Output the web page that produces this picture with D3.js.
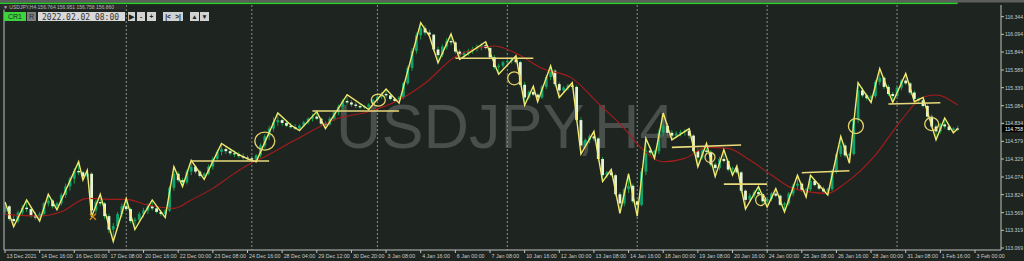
<!DOCTYPE html>
<html>
<head>
<meta charset="utf-8">
<script src="https://cdn.jsdelivr.net/npm/d3@7"></script>
<style>
body{margin:0;background:#1e2420;}
svg{display:block;font-family:"Liberation Sans",Arial,sans-serif;}
</style>
</head>
<body>
<svg width="1024" height="261"></svg>
<script>
// time axis labels, one every 8 bars
const timeLabels=["13 Dec 2021","14 Dec 16:00","16 Dec 00:00","17 Dec 08:00","20 Dec 16:00","22 Dec 00:00",
  "23 Dec 08:00","24 Dec 16:00","28 Dec 04:00","29 Dec 12:00","30 Dec 20:00","3 Jan 08:00","4 Jan 16:00",
  "6 Jan 00:00","7 Jan 08:00","10 Jan 16:00","12 Jan 00:00","13 Jan 08:00","14 Jan 16:00","18 Jan 00:00",
  "19 Jan 08:00","20 Jan 16:00","24 Jan 00:00","25 Jan 08:00","26 Jan 16:00","28 Jan 00:00","31 Jan 08:00",
  "1 Feb 16:00","3 Feb 00:00"];
const priceTicks=[116.344,116.094,115.844,115.589,115.339,115.084,114.834,114.579,114.329,114.074,113.824,113.569,113.319,113.069];
// week separators (bar index of Monday 00:00)
const weekBars=[28,57,86,116,146,176,206];

// H4 candles [open, high, low, close]
const candles=[
[113.58,113.72,113.55,113.66],[113.66,113.68,113.45,113.48],[113.48,113.52,113.37,113.45],[113.45,113.60,113.42,113.57],
[113.57,113.68,113.52,113.64],[113.64,113.75,113.58,113.62],[113.62,113.65,113.50,113.53],[113.53,113.58,113.47,113.50],
[113.50,113.58,113.45,113.55],[113.55,113.72,113.52,113.70],[113.70,113.83,113.66,113.74],[113.74,113.76,113.63,113.66],
[113.66,113.72,113.61,113.70],[113.70,113.85,113.67,113.82],[113.82,113.98,113.78,113.94],[113.94,114.08,113.88,114.05],
[114.05,114.20,113.98,114.16],[114.16,114.29,114.10,114.14],[114.14,114.16,114.03,114.08],[114.08,114.17,114.04,114.12],
[114.12,114.14,113.51,113.60],[113.60,113.75,113.56,113.72],[113.72,113.83,113.66,113.70],[113.70,113.72,113.48,113.52],
[113.52,113.55,113.28,113.33],[113.33,113.42,113.16,113.38],[113.38,113.58,113.35,113.55],[113.55,113.70,113.50,113.66],
[113.66,113.77,113.60,113.62],[113.62,113.64,113.42,113.45],[113.45,113.50,113.33,113.47],[113.47,113.58,113.44,113.55],
[113.55,113.64,113.50,113.60],[113.60,113.70,113.55,113.66],[113.66,113.75,113.60,113.63],[113.63,113.66,113.56,113.58],
[113.58,113.61,113.52,113.55],[113.55,113.62,113.50,113.60],[113.60,113.95,113.58,113.92],[113.92,114.22,113.88,114.12],
[114.12,114.15,114.00,114.03],[114.03,114.06,113.94,114.00],[114.00,114.18,113.97,114.15],[114.15,114.31,114.10,114.22],
[114.22,114.24,114.12,114.15],[114.15,114.18,114.06,114.09],[114.09,114.14,114.04,114.12],[114.12,114.25,114.10,114.22],
[114.22,114.36,114.18,114.33],[114.33,114.46,114.29,114.43],[114.43,114.55,114.38,114.47],[114.47,114.50,114.40,114.44],
[114.44,114.48,114.38,114.41],[114.41,114.45,114.36,114.40],[114.40,114.43,114.34,114.37],[114.37,114.41,114.32,114.35],
[114.35,114.38,114.30,114.34],[114.34,114.37,114.30,114.32],[114.32,114.40,114.29,114.38],[114.38,114.55,114.35,114.52],
[114.52,114.68,114.48,114.65],[114.65,114.80,114.60,114.76],[114.76,114.92,114.72,114.85],[114.85,114.98,114.80,114.88],
[114.88,114.90,114.80,114.84],[114.84,114.87,114.78,114.80],[114.80,114.84,114.76,114.78],[114.78,114.82,114.74,114.76],
[114.76,114.82,114.73,114.80],[114.80,114.87,114.78,114.85],[114.85,114.92,114.82,114.90],[114.90,114.97,114.86,114.93],
[114.93,115.00,114.88,114.90],[114.90,114.92,114.80,114.83],[114.83,114.86,114.76,114.82],[114.82,114.93,114.80,114.90],
[114.90,115.02,114.87,114.99],[114.99,115.10,114.95,115.07],[115.07,115.18,115.03,115.15],[115.15,115.24,115.10,115.13],
[115.13,115.16,115.07,115.10],[115.10,115.13,115.05,115.08],[115.08,115.11,115.04,115.06],[115.06,115.09,115.04,115.07],
[115.07,115.12,115.03,115.10],[115.10,115.18,115.08,115.16],[115.16,115.24,115.13,115.21],[115.21,115.28,115.18,115.25],
[115.25,115.32,115.20,115.23],[115.23,115.25,115.16,115.18],[115.18,115.20,115.13,115.15],[115.15,115.22,115.12,115.20],
[115.20,115.42,115.18,115.40],[115.40,115.65,115.38,115.62],[115.62,115.90,115.58,115.86],[115.86,116.12,115.82,116.08],
[116.08,116.26,116.02,116.18],[116.18,116.22,116.08,116.12],[116.12,116.16,116.07,116.09],[116.09,116.10,115.85,115.88],
[115.88,115.92,115.69,115.80],[115.80,115.95,115.77,115.92],[115.92,116.04,115.88,116.00],[116.00,116.10,115.94,115.98],
[115.98,116.00,115.82,115.85],[115.85,115.88,115.74,115.80],[115.80,115.86,115.76,115.83],[115.83,115.89,115.79,115.86],
[115.86,115.92,115.82,115.89],[115.89,115.95,115.85,115.92],[115.92,115.97,115.87,115.94],[115.94,115.99,115.88,115.90],
[115.90,115.92,115.74,115.77],[115.77,115.80,115.60,115.63],[115.63,115.68,115.53,115.65],[115.65,115.72,115.62,115.70],
[115.70,115.75,115.66,115.72],[115.72,115.77,115.68,115.74],[115.74,115.79,115.68,115.70],[115.70,115.72,115.35,115.38],
[115.38,115.42,115.09,115.20],[115.20,115.30,115.17,115.28],[115.28,115.36,115.22,115.24],[115.24,115.26,115.14,115.20],
[115.20,115.38,115.18,115.35],[115.35,115.52,115.32,115.49],[115.49,115.65,115.45,115.58],[115.58,115.60,115.36,115.39],
[115.39,115.42,115.20,115.30],[115.30,115.36,115.27,115.34],[115.34,115.39,115.30,115.37],[115.37,115.41,115.32,115.35],
[115.35,115.37,114.85,114.88],[114.88,114.92,114.40,114.52],[114.52,114.62,114.48,114.60],[114.60,114.68,114.55,114.65],
[114.65,114.72,114.58,114.62],[114.62,114.64,114.30,114.33],[114.33,114.36,114.01,114.10],[114.10,114.16,114.06,114.14],
[114.14,114.18,114.08,114.10],[114.10,114.12,113.80,113.83],[113.83,113.86,113.56,113.70],[113.70,113.92,113.66,113.90],
[113.90,114.12,113.85,113.95],[113.95,113.98,113.70,113.73],[113.73,113.76,113.52,113.68],[113.68,114.20,113.66,114.15],
[114.15,114.62,114.10,114.45],[114.45,114.50,114.38,114.42],[114.42,114.46,114.34,114.44],[114.44,114.75,114.40,114.70],
[114.70,114.98,114.65,114.80],[114.80,114.84,114.66,114.70],[114.70,114.74,114.60,114.66],[114.66,114.72,114.63,114.69],
[114.69,114.74,114.65,114.71],[114.71,114.75,114.66,114.73],[114.73,114.76,114.62,114.66],[114.66,114.68,114.40,114.44],
[114.44,114.48,114.22,114.35],[114.35,114.48,114.32,114.45],[114.45,114.55,114.40,114.43],[114.43,114.45,114.22,114.25],
[114.25,114.28,114.08,114.20],[114.20,114.36,114.17,114.33],[114.33,114.46,114.28,114.30],[114.30,114.32,114.15,114.18],
[114.18,114.22,114.10,114.20],[114.20,114.23,114.12,114.14],[114.14,114.16,113.85,113.88],[113.88,113.90,113.62,113.75],
[113.75,113.84,113.72,113.81],[113.81,113.89,113.77,113.86],[113.86,113.94,113.80,113.83],[113.83,113.85,113.70,113.73],
[113.73,113.78,113.65,113.76],[113.76,113.86,113.73,113.84],[113.84,113.91,113.79,113.81],[113.81,113.83,113.66,113.68],
[113.68,113.72,113.58,113.70],[113.70,113.86,113.67,113.84],[113.84,113.98,113.80,113.95],[113.95,114.10,113.90,113.98],
[113.98,114.00,113.86,113.88],[113.88,113.92,113.79,113.90],[113.90,114.10,113.87,114.02],[114.02,114.04,113.94,113.96],
[113.96,113.99,113.89,113.91],[113.91,113.94,113.85,113.87],[113.87,113.92,113.82,113.90],[113.90,114.18,113.88,114.15],
[114.15,114.42,114.12,114.40],[114.40,114.65,114.36,114.52],[114.52,114.55,114.35,114.38],[114.38,114.42,114.27,114.40],
[114.40,114.92,114.38,114.88],[114.88,115.41,114.84,115.30],[115.30,115.34,115.20,115.23],[115.23,115.26,115.16,115.19],
[115.19,115.24,115.13,115.22],[115.22,115.45,115.19,115.42],[115.42,115.61,115.38,115.48],[115.48,115.50,115.32,115.35],
[115.35,115.38,115.22,115.25],[115.25,115.28,115.13,115.22],[115.22,115.36,115.20,115.34],[115.34,115.46,115.30,115.44],
[115.44,115.54,115.38,115.40],[115.40,115.42,115.24,115.27],[115.27,115.30,115.14,115.18],[115.18,115.20,115.12,115.16],
[115.16,115.20,115.06,115.08],[115.08,115.10,114.90,114.93],[114.93,114.96,114.76,114.79],[114.79,114.82,114.60,114.72],
[114.72,114.84,114.69,114.82],[114.82,114.91,114.76,114.79],[114.79,114.81,114.72,114.74],[114.74,114.78,114.70,114.76],
[114.76,114.80,114.72,114.758]
];

// zigzag vertices
const zzBars=[0,2,5,8,10,12,17,18,19,20,22,25,28,30,34,37,39,41,43,46,50,52,54,56,58,63,66,68,72,74,79,84,88,91,96,98,
  100,103,105,111,114,118,120,122,123,126,128,131,133,136,138,140,142,144,146,148,150,152,154,158,160,162,164,166,168,169,
  171,174,176,178,180,183,185,186,190,193,195,197,200,202,205,208,210,212,215,217,219,220];
const zzPrices=[113.72,113.37,113.75,113.45,113.83,113.61,114.29,114.03,114.17,113.51,113.83,113.16,113.77,113.33,113.75,
  113.50,114.22,113.94,114.31,114.04,114.55,114.47,114.39,114.33,114.29,114.98,114.81,114.73,115.00,114.76,115.24,115.03,
  115.32,115.12,116.26,116.07,115.69,116.10,115.74,115.99,115.53,115.79,115.09,115.36,115.14,115.65,115.20,115.41,114.40,
  114.72,114.01,114.18,113.56,114.12,113.52,114.62,114.34,114.98,114.60,114.76,114.22,114.55,114.08,114.46,114.10,114.23,
  113.62,113.94,113.65,113.91,113.58,114.10,113.79,114.10,113.82,114.65,114.27,115.41,115.13,115.61,115.13,115.54,115.14,
  115.20,114.60,114.91,114.70,114.76];

// moving average, read at sample bars
const maBars=[0,8,13,19,25,28,33,39,43,48,53,57,60,67,77,84,91,97,104,113,118,124,131,137,143,147,152,157,162,167,172,177,182,190,194,201,207,212,215,220];
const maPrices=[113.545,113.521,113.582,113.772,113.758,113.758,113.677,113.630,113.748,113.913,114.126,114.276,114.361,114.597,
  114.905,114.998,115.164,115.401,115.777,115.929,115.826,115.613,115.471,115.117,114.763,114.480,114.290,114.338,114.494,
  114.480,114.314,114.102,113.913,113.843,113.984,114.385,114.881,115.202,115.235,115.093];

// drawn trend levels: [startBar, endBar, startPrice, endPrice]
const levels=[[43,61,114.300,114.300],[71,91,115.008,115.008],[104,122,115.755,115.755],[154,170,114.494,114.527],
  [166,176,113.974,113.974],[184,195,114.134,114.163],[204,216,115.107,115.126]];
// ellipses: [bar, price, rx, ry]
const marks=[[60,114.583,10,9],[86.2,115.164,7,6],[117.6,115.472,6.5,6.5],[162.8,114.353,5,5],[174.5,113.748,5,5.5],
  [196.5,114.796,7.5,7.5],[214,114.824,7,6.5]];

const svg=d3.select("svg");
const W=1024, H=261;
const plotL=4, plotR=1001, plotT=5, plotB=250;

const x=d3.scaleLinear().domain([0,224]).range([5,975]);
const y=d3.scaleLinear().domain([113.069,116.344]).range([248,16.7]);

svg.append("rect").attr("width",W).attr("height",H).attr("fill","#1e2420");

// watermark
svg.append("text")
  .attr("x",336).attr("y",148)
  .attr("font-size",63)
  .attr("fill","#4a4f4c")
  .text("USDJPY,H4");

// week separators
svg.append("g").selectAll("line").data(weekBars).enter().append("line")
  .attr("x1",d=>x(d)).attr("x2",d=>x(d))
  .attr("y1",plotT).attr("y2",plotB)
  .attr("stroke","#8c8f8d").attr("stroke-dasharray","2,2");

// candles
const cg=svg.append("g");
const bw=2.8;
candles.forEach((c,i)=>{
  const [o,h,l,cl]=c;
  const up=cl>=o;
  cg.append("line")
    .attr("x1",x(i)).attr("x2",x(i))
    .attr("y1",y(h)).attr("y2",y(l))
    .attr("stroke","#17a142").attr("stroke-width",1);
  const top=y(Math.max(o,cl)), bot=y(Math.min(o,cl));
  cg.append("rect")
    .attr("x",x(i)-bw/2).attr("width",bw)
    .attr("y",top).attr("height",Math.max(1,bot-top))
    .attr("fill",up?"#0ea36c":"#e4f6d6");
});

// moving average
svg.append("path")
  .datum(maBars.map((b,i)=>[b,maPrices[i]]))
  .attr("d",d3.line().x(d=>x(d[0])).y(d=>y(d[1])).curve(d3.curveMonotoneX))
  .attr("fill","none").attr("stroke","#a51c1c").attr("stroke-width",1.1);

// zigzag
svg.append("path")
  .datum(zzBars.map((b,i)=>[b,zzPrices[i]]))
  .attr("d",d3.line().x(d=>x(d[0])).y(d=>y(d[1])))
  .attr("fill","none").attr("stroke","#f4e86e").attr("stroke-width",1.4);

// levels
svg.append("g").selectAll("line").data(levels).enter().append("line")
  .attr("x1",d=>x(d[0])).attr("x2",d=>x(d[1]))
  .attr("y1",d=>y(d[2])).attr("y2",d=>y(d[3]))
  .attr("stroke","#e8da7a").attr("stroke-width",1.6);

// ellipses
svg.append("g").selectAll("ellipse").data(marks).enter().append("ellipse")
  .attr("cx",d=>x(d[0])).attr("cy",d=>y(d[1]))
  .attr("rx",d=>d[2]).attr("ry",d=>d[3])
  .attr("fill","none").attr("stroke","#e4d46a").attr("stroke-width",1.3);

// small cross mark
const cx0=x(20.3), cy0=y(113.51);
svg.append("path")
  .attr("d",`M${cx0-3},${cy0-3}L${cx0+3},${cy0+3}M${cx0-3},${cy0+3}L${cx0+3},${cy0-3}`)
  .attr("stroke","#d08a1a").attr("stroke-width",1.4);

// frame
svg.append("line").attr("x1",plotL).attr("x2",plotL).attr("y1",plotT).attr("y2",plotB).attr("stroke","#8a8c8b").attr("stroke-width",1.5);
svg.append("line").attr("x1",plotR).attr("x2",plotR).attr("y1",plotT).attr("y2",plotB).attr("stroke","#c0c2c1");
svg.append("line").attr("x1",plotL).attr("x2",plotR).attr("y1",plotB).attr("y2",plotB).attr("stroke","#c0c2c1");

// price axis
const pa=svg.append("g");
priceTicks.forEach(p=>{
  pa.append("line").attr("x1",plotR).attr("x2",plotR+3).attr("y1",y(p)).attr("y2",y(p)).attr("stroke","#c0c2c1");
  pa.append("text").attr("x",plotR+4).attr("y",y(p)+2).attr("font-size",5.1).attr("fill","#c8cac9").text(d3.format(".3f")(p));
});
const last=candles[candles.length-1][3];
pa.append("rect").attr("x",plotR+1).attr("y",y(last)-3.6).attr("width",W-plotR-1).attr("height",7).attr("fill","#000");
pa.append("text").attr("x",plotR+4).attr("y",y(last)+2).attr("font-size",5.1).attr("fill","#ffffff").text(d3.format(".3f")(last));

// time axis
const ta=svg.append("g");
timeLabels.forEach((t,k)=>{
  const xx=x(k*8);
  ta.append("line").attr("x1",xx).attr("x2",xx).attr("y1",plotB).attr("y2",plotB+3).attr("stroke","#c0c2c1");
  ta.append("text").attr("x",xx+1.5).attr("y",plotB+7.5).attr("font-size",5.3).attr("fill","#c8cac9").text(t);
});

// top strip and toolbar
svg.append("rect").attr("x",0).attr("y",0).attr("width",W).attr("height",2.5).attr("fill","#5c5f5d");
svg.append("rect").attr("x",0).attr("y",2.5).attr("width",x(220)).attr("height",1.6).attr("fill","#2ecc2e");
svg.append("rect").attr("x",0).attr("y",4.1).attr("width",126).attr("height",5.5).attr("fill","#2a2d2b");
svg.append("text").attr("x",3).attr("y",8.7).attr("font-size",5).attr("fill","#b4b6b5")
  .text("\u25BC USDJPY,H4  156.764 156.951 156.758 156.860");

const tb=svg.append("g");
tb.append("rect").attr("x",4).attr("y",12).attr("width",22).attr("height",9).attr("fill","#3fd43f");
tb.append("text").attr("x",15).attr("y",19.3).attr("text-anchor","middle").attr("font-size",7).attr("fill","#1a2a1a").text("CR1");
tb.append("rect").attr("x",27).attr("y",12).attr("width",9).attr("height",9).attr("fill","#7d7f7e");
tb.append("text").attr("x",31.5).attr("y",19.3).attr("text-anchor","middle").attr("font-size",7).attr("fill","#2a2a2a").text("R");
tb.append("rect").attr("x",38).attr("y",12).attr("width",87).attr("height",9).attr("fill","#d9d9d9");
tb.append("text").attr("x",42).attr("y",19.5).attr("font-size",8).attr("font-family","DejaVu Sans Mono")
  .attr("fill","#333").text("2022.02.02 08:00");
const buttons=[[128,7,"\u25B6"],[137,8,"-"],[147,9,"+"],[163,10,"|<"],[173,10,">|"],[190,9,"\u25B2"],[200,9,"\u25BC"]];
buttons.forEach(b=>{
  tb.append("rect").attr("x",b[0]).attr("y",12).attr("width",b[1]).attr("height",9).attr("fill","#d2d2d2");
  tb.append("text").attr("x",b[0]+b[1]/2).attr("y",19).attr("text-anchor","middle").attr("font-size",6.5)
    .attr("font-weight","bold").attr("fill","#222").text(b[2]);
});
</script>
</body>
</html>
